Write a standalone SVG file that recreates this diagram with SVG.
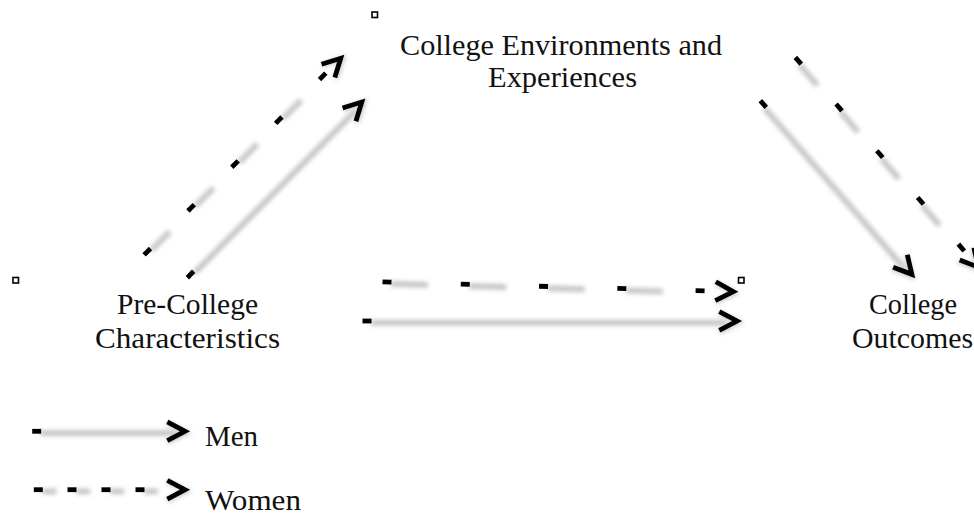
<svg xmlns="http://www.w3.org/2000/svg" xmlns:xlink="http://www.w3.org/1999/xlink" width="974" height="518" viewBox="0 0 974 518">
<style>
  .lbl { font-family: "Liberation Serif", "Times New Roman", serif; font-size: 30px; fill: #111; }
  .anchor { fill: #fff; stroke: #000; stroke-width: 1.6; }
  .sh { fill: #c2c2c2; filter: url(#blur); }
  .head { fill: none; stroke: #000; stroke-width: 4.8; stroke-linecap: butt; stroke-linejoin: miter; stroke-miterlimit: 10; }
  .headsh { fill: none; stroke: #cacaca; stroke-width: 4.8; filter: url(#blur); }
</style>
<defs>
  <filter id="blur" filterUnits="userSpaceOnUse" x="-40" y="-40" width="480" height="80">
    <feGaussianBlur stdDeviation="2.1"/>
  </filter>
  <rect id="dash" x="-4.5" y="-2.4" width="9" height="4.8" fill="#000"/>
  <g id="chev">
    <path class="headsh" d="M-17.7,-8 L1.5,1.5 L-17.7,11"/>
    <path class="head" d="M-17.7,-9.4 L0,0 L-17.7,9.4"/>
  </g>
</defs>
<rect width="974" height="518" fill="#fff"/>

<g id="connectors">
  <!-- Men: Pre-College -> College Environments -->
  <g id="men-pre-env" transform="translate(190.5,274.5) rotate(-45.2)">
    <rect class="sh" x="4" y="-1" width="230" height="5.5"/>
    <use xlink:href="#dash" x="0"/>
    <use xlink:href="#chev" x="243"/>
  </g>
  <!-- Women: Pre-College -> College Environments -->
  <g id="women-pre-env" transform="translate(147.3,251.7) rotate(-45)">
    <rect class="sh" x="4" y="-1" width="26" height="5.5"/>
    <rect class="sh" x="66" y="-1" width="26" height="5.5"/>
    <rect class="sh" x="128" y="-1" width="26" height="5.5"/>
    <rect class="sh" x="190" y="-1" width="26" height="5.5"/>
    <use xlink:href="#dash" x="0"/>
    <use xlink:href="#dash" x="62"/>
    <use xlink:href="#dash" x="124"/>
    <use xlink:href="#dash" x="186"/>
    <use xlink:href="#dash" x="248"/>
    <use xlink:href="#chev" x="273.5"/>
  </g>
  <!-- Men: Pre-College -> College Outcomes -->
  <g id="men-pre-out" transform="translate(367,321)">
    <rect class="sh" x="4" y="-1" width="356" height="5.5"/>
    <use xlink:href="#dash" x="0"/>
    <use xlink:href="#chev" x="370"/>
  </g>
  <!-- Women: Pre-College -> College Outcomes -->
  <g id="women-pre-out" transform="translate(387,282) rotate(1.6)">
    <rect class="sh" x="4" y="-1" width="37" height="5.5"/>
    <rect class="sh" x="82.3" y="-1" width="37" height="5.5"/>
    <rect class="sh" x="160.6" y="-1" width="37" height="5.5"/>
    <rect class="sh" x="238.9" y="-1" width="37" height="5.5"/>
    <use xlink:href="#dash" x="0"/>
    <use xlink:href="#dash" x="78.3"/>
    <use xlink:href="#dash" x="156.6"/>
    <use xlink:href="#dash" x="234.9"/>
    <use xlink:href="#dash" x="313.2"/>
    <use xlink:href="#chev" x="346.4"/>
  </g>
  <!-- Men: College Environments -> College Outcomes -->
  <g id="men-env-out" transform="translate(763.3,104) rotate(48.9)">
    <rect class="sh" x="4" y="-1" width="214" height="5.5"/>
    <use xlink:href="#dash" x="0"/>
    <use xlink:href="#chev" x="226"/>
  </g>
  <!-- Women: College Environments -> College Outcomes -->
  <g id="women-env-out" transform="translate(798.3,60.7) rotate(48.9)">
    <rect class="sh" x="4" y="-1" width="27" height="5.5"/>
    <rect class="sh" x="66" y="-1" width="27" height="5.5"/>
    <rect class="sh" x="128" y="-1" width="27" height="5.5"/>
    <rect class="sh" x="190" y="-1" width="27" height="5.5"/>
    <use xlink:href="#dash" x="0"/>
    <use xlink:href="#dash" x="62"/>
    <use xlink:href="#dash" x="124"/>
    <use xlink:href="#dash" x="186"/>
    <use xlink:href="#dash" x="248"/>
    <use xlink:href="#chev" x="274"/>
  </g>
</g>

<g id="node-env">
  <rect class="anchor" x="372" y="12" width="5.5" height="5.5"/>
  <text class="lbl" x="400" y="55" textLength="322" lengthAdjust="spacingAndGlyphs">College Environments and</text>
  <text class="lbl" x="488" y="87" textLength="149" lengthAdjust="spacingAndGlyphs">Experiences</text>
</g>

<g id="node-pre">
  <rect class="anchor" x="13" y="277.5" width="5.5" height="5.5"/>
  <text class="lbl" x="117" y="314" textLength="141" lengthAdjust="spacingAndGlyphs">Pre-College</text>
  <text class="lbl" x="95" y="348" textLength="185" lengthAdjust="spacingAndGlyphs">Characteristics</text>
</g>

<g id="node-out">
  <rect class="anchor" x="738.5" y="277.5" width="5.5" height="5.5"/>
  <text class="lbl" x="869" y="314" textLength="88" lengthAdjust="spacingAndGlyphs">College</text>
  <text class="lbl" x="852" y="348" textLength="121" lengthAdjust="spacingAndGlyphs">Outcomes</text>
</g>

<g id="legend">
  <g id="legend-men" transform="translate(36.7,431.3)">
    <rect class="sh" x="4" y="-1" width="136" height="5.5"/>
    <use xlink:href="#dash" x="0"/>
    <use xlink:href="#chev" x="148.3"/>
  </g>
  <text class="lbl" x="205" y="446" textLength="53" lengthAdjust="spacingAndGlyphs">Men</text>
  <g id="legend-women" transform="translate(38.3,489.7)">
    <rect class="sh" x="4" y="-1" width="14" height="5.5"/>
    <rect class="sh" x="37.7" y="-1" width="14" height="5.5"/>
    <rect class="sh" x="71.7" y="-1" width="14" height="5.5"/>
    <rect class="sh" x="105.7" y="-1" width="14" height="5.5"/>
    <use xlink:href="#dash" x="0"/>
    <use xlink:href="#dash" x="33.7"/>
    <use xlink:href="#dash" x="67.7"/>
    <use xlink:href="#dash" x="101.7"/>
    <use xlink:href="#chev" x="146.7"/>
  </g>
  <text class="lbl" x="205" y="510" textLength="96" lengthAdjust="spacingAndGlyphs">Women</text>
</g>
</svg>
